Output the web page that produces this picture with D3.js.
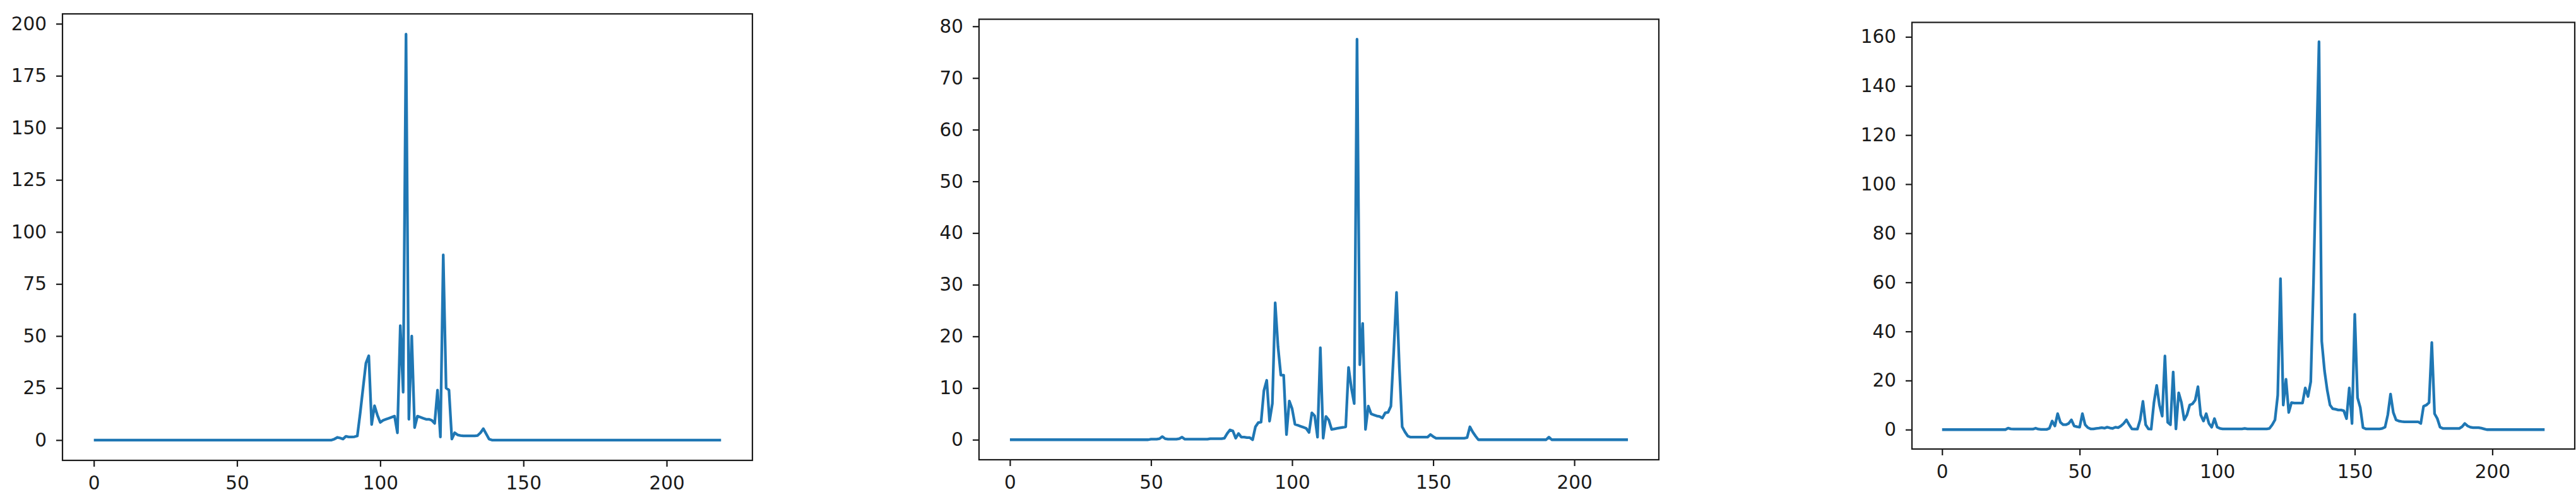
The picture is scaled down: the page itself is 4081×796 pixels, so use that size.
<!DOCTYPE html>
<html>
<head>
<meta charset="utf-8">
<script src="https://cdn.jsdelivr.net/npm/d3@7"></script>
<style>
  body { margin: 0; background: #fff; }
  svg text { font-family: "DejaVu Sans", sans-serif; }
</style>
</head>
<body>
<div id="chart"></div>
<script>
// values, one per x = 0..219
const seriesA = [
  0,0,0,0,0,0,0,0,0,0,0,0,0,0,0,0,0,0,0,0,
  0,0,0,0,0,0,0,0,0,0,0,0,0,0,0,0,0,0,0,0,
  0,0,0,0,0,0,0,0,0,0,0,0,0,0,0,0,0,0,0,0,
  0,0,0,0,0,0,0,0,0,0,0,0,0,0,0,0,0,0,0,0,
  0,0,0,0,0.5,1.3,1,0.5,1.8,1.5,1.5,1.6,2,13,25,37,40.5,7.5,16.5,12,
  8.5,9.5,10,10.5,11,11.5,3.5,55,23,195,10,50,6,11.5,11,10.5,10,10,9.5,8,
  24,1.5,89,25,24,0.5,3.5,2.5,2.2,2,2,2,2,2,2.2,3.5,5.5,3,0.5,0,
  0,0,0,0,0,0,0,0,0,0,0,0,0,0,0,0,0,0,0,0,
  0,0,0,0,0,0,0,0,0,0,0,0,0,0,0,0,0,0,0,0,
  0,0,0,0,0,0,0,0,0,0,0,0,0,0,0,0,0,0,0,0,
  0,0,0,0,0,0,0,0,0,0,0,0,0,0,0,0,0,0,0,0
];

const seriesB = [
  0,0,0,0,0,0,0,0,0,0,0,0,0,0,0,0,0,0,0,0,
  0,0,0,0,0,0,0,0,0,0,0,0,0,0,0,0,0,0,0,0,
  0,0,0,0,0,0,0,0,0,0,0.1,0.1,0.1,0.2,0.6,0.2,0.1,0.1,0.1,0.1,
  0.2,0.5,0.1,0.1,0.1,0.1,0.1,0.1,0.1,0.1,0.1,0.2,0.2,0.2,0.2,0.2,0.3,1.2,1.9,1.7,
  0.3,1.2,0.5,0.5,0.4,0.4,0,2.5,3.3,3.4,9.5,11.5,3.6,7,26.5,18,12.5,12.5,1,7.5,
  6,3,2.8,2.6,2.4,2.2,1.4,5.2,4.6,0.5,17.8,0.3,4.5,3.8,2,2.1,2.2,2.3,2.4,2.5,
  14,10,7,77.5,14.5,22.5,2,6.5,5,4.8,4.6,4.5,4.2,5.2,5.3,6.5,17,28.5,14,2.5,
  1.5,0.7,0.5,0.5,0.5,0.5,0.5,0.5,0.5,1,0.6,0.3,0.3,0.3,0.3,0.3,0.3,0.3,0.3,0.3,
  0.3,0.3,0.4,2.5,1.5,0.7,0,0,0,0,0,0,0,0,0,0,0,0,0,0,
  0,0,0,0,0,0,0,0,0,0,0,0.5,0,0,0,0,0,0,0,0,
  0,0,0,0,0,0,0,0,0,0,0,0,0,0,0,0,0,0,0,0
];

const seriesC = [
  0,0,0,0,0,0,0,0,0,0,0,0,0,0,0,0,0,0,0,0,
  0,0,0,0,0.6,0.3,0.2,0.2,0.2,0.2,0.2,0.2,0.2,0.2,0.6,0.2,0.1,0.1,0.1,0.5,
  3.5,1.5,6.5,3,2,2,2.5,4,1.5,1.2,1,6.5,2,0.8,0.3,0.3,0.5,0.6,0.8,0.6,
  1,0.7,0.5,1,0.8,1.5,2.5,4,2,0.3,0.2,0.2,4,11.5,2,0.3,0.2,11,18,10,
  5.5,30,3,2,23.5,0.3,15,11,4,6,10,10.5,12,17.5,6,3.5,6.5,2.5,1,4.5,
  1,0.5,0.3,0.3,0.3,0.3,0.3,0.3,0.3,0.3,0.5,0.3,0.3,0.3,0.3,0.3,0.3,0.3,0.3,0.5,
  2,4,14,61.5,10,20.5,7,11,10.8,10.8,10.8,10.8,17,13.5,19.5,60,110,158,36,24,
  16,10,8.5,8.3,8,8,7.7,4.5,17,2.5,47,13,9,0.8,0.3,0.3,0.3,0.3,0.3,0.3,
  0.5,1,6,14.5,7,4,3.5,3.3,3.2,3.2,3.2,3.2,3.2,3.2,2.5,9.5,10,11,35.5,6.5,
  4.5,1,0.5,0.5,0.5,0.5,0.5,0.5,0.5,1.2,2.5,1.5,1,0.8,0.8,0.8,0.6,0.3,0,0,
  0,0,0,0,0,0,0,0,0,0,0,0,0,0,0,0,0,0,0,0
];

const xTicks = [0, 50, 100, 150, 200];
const yTicksA = [0, 25, 50, 75, 100, 125, 150, 175, 200];
const yTicksB = [0, 10, 20, 30, 40, 50, 60, 70, 80];
const yTicksC = [0, 20, 40, 60, 80, 100, 120, 140, 160];

const W = 4081, H = 796;
const lineColor = "#1f77b4";
const ink = "#1a1a1a";
const fontSize = 29.5;

// axes boxes in page pixels
const panels = [
  { values: seriesA, yTicks: yTicksA, left: 99,   right: 1192, top: 22,   bottom: 730 },
  { values: seriesB, yTicks: yTicksB, left: 1551, right: 2628, top: 30.5, bottom: 729 },
  { values: seriesC, yTicks: yTicksC, left: 3029, right: 4079, top: 35.5, bottom: 712 }
];

const svg = d3.select("#chart")
  .append("svg")
  .attr("width", W)
  .attr("height", H);

panels.forEach(function (p) {
  const n = p.values.length - 1;
  // matplotlib style 5% margins
  const x = d3.scaleLinear()
    .domain([-0.05 * n, n * 1.05])
    .range([p.left, p.right]);

  const lo = d3.min(p.values), hi = d3.max(p.values);
  const pad = (hi - lo) * 0.05;
  const y = d3.scaleLinear()
    .domain([lo - pad, hi + pad])
    .range([p.bottom, p.top]);

  const g = svg.append("g");

  // x axis
  const xa = g.append("g")
    .attr("transform", `translate(0, ${p.bottom})`)
    .call(d3.axisBottom(x).tickValues(xTicks).tickSize(10).tickPadding(15));
  // y axis
  const ya = g.append("g")
    .attr("transform", `translate(${p.left}, 0)`)
    .call(d3.axisLeft(y).tickValues(p.yTicks).tickSize(10).tickPadding(15));

  [xa, ya].forEach(function (a) {
    a.select(".domain").remove();
    a.selectAll(".tick line").attr("stroke", ink).attr("stroke-width", 2.2);
    a.selectAll(".tick text")
      .attr("fill", ink)
      .style("font-size", fontSize + "px");
  });

  // the line
  g.append("path")
    .datum(p.values)
    .attr("fill", "none")
    .attr("stroke", lineColor)
    .attr("stroke-width", 4.3)
    .attr("stroke-linejoin", "round")
    .attr("d", d3.line()
      .x(function (d, i) { return x(i); })
      .y(function (d) { return y(d); })
    );

  // frame
  g.append("rect")
    .attr("x", p.left)
    .attr("y", p.top)
    .attr("width", p.right - p.left)
    .attr("height", p.bottom - p.top)
    .attr("fill", "none")
    .attr("stroke", ink)
    .attr("stroke-width", 2.2);
});
</script>
</body>
</html>
